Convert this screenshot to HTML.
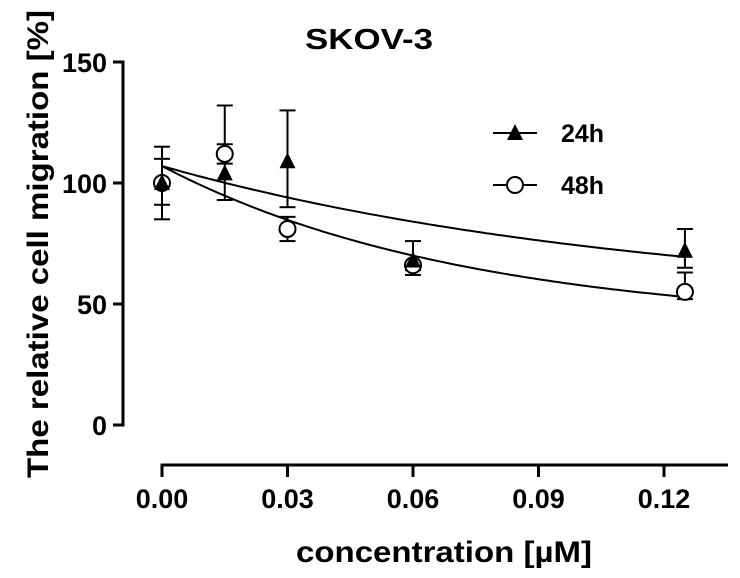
<!DOCTYPE html>
<html><head><meta charset="utf-8"><style>
body{margin:0;background:#fff;}
svg{display:block;font-family:"Liberation Sans",Arial,sans-serif;font-weight:bold;}
</style></head><body>
<svg id="chart" width="740" height="578" viewBox="0 0 740 578">
<text x="369" y="49" text-anchor="middle" font-size="29" textLength="128" lengthAdjust="spacingAndGlyphs">SKOV-3</text>
<text transform="translate(40,244) rotate(-90)" text-anchor="middle" font-size="30" textLength="468" lengthAdjust="spacingAndGlyphs" dy="8">The relative cell migration [%]</text>
<text x="444" y="562" text-anchor="middle" font-size="30" textLength="296" lengthAdjust="spacingAndGlyphs">concentration [µM]</text>
<g id="axes"></g><g id="marks"></g>
<g>
<line x1="493" y1="133" x2="537" y2="133" stroke="#000" stroke-width="2"/>
<polygon points="515,124 523,140 507,140" fill="#000"/>
<text x="561" y="142" font-size="25">24h</text>
<line x1="493" y1="185" x2="537" y2="185" stroke="#000" stroke-width="2"/>
<circle cx="515" cy="185" r="8" fill="#fff" stroke="#000" stroke-width="2"/>
<text x="561" y="194" font-size="25">48h</text>
</g>
</svg>
<script>
const conc=[0,0.015,0.03,0.06,0.125];
const v24=[100,104,109,68,72];
const up24=[10,28,21,8,9];
const dn24=[9,11,19,4,7];
const v48=[100,112,81,66,55];
const up48=[15,4,5,0,8];
const dn48=[15,4,5,4,3];
const xTicks=[0,0.03,0.06,0.09,0.12];
const xTickLabels=["0.00","0.03","0.06","0.09","0.12"];
const yTicks=[0,50,100,150];
const fit24=[107,50,8.6];
const fit48=[107,41,13.7];
const NS="http://www.w3.org/2000/svg";
const X=v=>162+v*(502/0.12);
const Y=v=>425-v*(363/150);
const axes=document.getElementById('axes'),marks=document.getElementById('marks');
function mk(tag,attrs,parent){const e=document.createElementNS(NS,tag);for(const k in attrs)e.setAttribute(k,attrs[k]);parent.appendChild(e);return e;}
let e=mk('line',{x1:123,y1:Y(150)-1.5,x2:123,y2:Y(0)+1.5,stroke:'#000','stroke-width':3},axes);


e=mk('line',{x1:160.5,y1:465,x2:728,y2:465,stroke:'#000','stroke-width':3},axes);


yTicks.forEach(t=>{
  mk('line',{x1:113,y1:Y(t),x2:123,y2:Y(t),stroke:'#000','stroke-width':3},axes);
  const tx=mk('text',{x:107,y:Y(t)+10,'text-anchor':'end','font-size':27},axes);tx.textContent=t;
  
  
});
xTicks.forEach((t,i)=>{
  mk('line',{x1:X(t),y1:465,x2:X(t),y2:477,stroke:'#000','stroke-width':3},axes);
  const tx=mk('text',{x:X(t),y:508,'text-anchor':'middle','font-size':27},axes);tx.textContent=xTickLabels[i];
  
  
});
function curve(p,name){let d='';for(let i=0;i<=100;i++){const c=0.125*i/100;const v=p[1]+(p[0]-p[1])*Math.exp(-p[2]*c);d+=(i?'L':'M')+X(c).toFixed(1)+','+Y(v).toFixed(1);}
  const el=mk('path',{d:d,fill:'none',stroke:'#000','stroke-width':2},marks);
  
  }
curve(fit24,'fit-curve-24h');curve(fit48,'fit-curve-48h');
function err(vals,up,dn){vals.forEach((v,i)=>{const x=X(conc[i]);
  if(up[i]>0){mk('line',{x1:x,y1:Y(v),x2:x,y2:Y(v+up[i]),stroke:'#000','stroke-width':2},marks);mk('line',{x1:x-8,y1:Y(v+up[i]),x2:x+8,y2:Y(v+up[i]),stroke:'#000','stroke-width':2},marks);}
  if(dn[i]>0){mk('line',{x1:x,y1:Y(v),x2:x,y2:Y(v-dn[i]),stroke:'#000','stroke-width':2},marks);mk('line',{x1:x-8,y1:Y(v-dn[i]),x2:x+8,y2:Y(v-dn[i]),stroke:'#000','stroke-width':2},marks);}
});}
err(v24,up24,dn24);err(v48,up48,dn48);
v48.forEach((v,i)=>{const c=mk('circle',{cx:X(conc[i]),cy:Y(v),r:8,fill:'#fff',stroke:'#000','stroke-width':2},marks);
  
  });
v24.forEach((v,i)=>{const x=X(conc[i]),y=Y(v);const p=mk('polygon',{points:`${x},${y-9} ${x+8},${y+7} ${x-8},${y+7}`,fill:'#000'},marks);
  
  });
</script>
</body></html>
